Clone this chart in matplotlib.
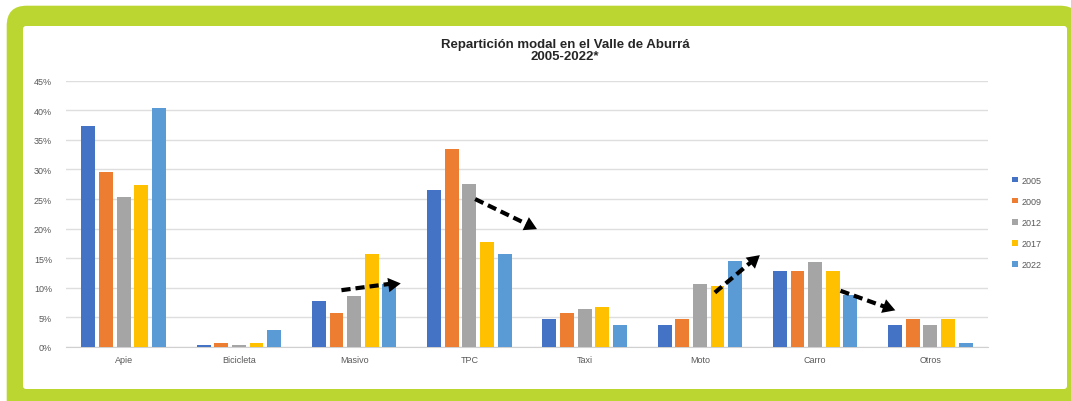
import matplotlib
matplotlib.use("Agg")
import matplotlib.pyplot as plt
from matplotlib.patches import FancyBboxPatch
from matplotlib.transforms import IdentityTransform
from matplotlib.ticker import FuncFormatter
import numpy as np

plt.rcParams['font.family'] = ['Liberation Sans', 'DejaVu Sans']

# ---- data ----
categories = ["Apie", "Bicicleta", "Masivo", "TPC", "Taxi", "Moto", "Carro", "Otros"]
years = ["2005", "2009", "2012", "2017", "2022"]
v2005 = [37.4, 0.4, 7.7, 26.5, 4.8, 3.7, 12.8, 3.7]
v2009 = [29.5, 0.7, 5.7, 33.4, 5.7, 4.8, 12.8, 4.8]
v2012 = [25.4, 0.4, 8.7, 27.5, 6.4, 10.7, 14.4, 3.7]
v2017 = [27.4, 0.6, 15.7, 17.7, 6.7, 10.3, 12.8, 4.8]
v2022 = [40.4, 2.8, 10.6, 15.7, 3.7, 14.5, 8.8, 0.6]
series = [v2005, v2009, v2012, v2017, v2022]
colors = ["#4472C4", "#ED7D31", "#A5A5A5", "#FFC000", "#5B9BD5"]
title = "Repartición modal en el Valle de Aburrá\n2005-2022*"
yticks = [0, 5, 10, 15, 20, 25, 30, 35, 40, 45]
# trend arrows (category position, percent)
arrows = [((1.89, 9.6), (2.40, 10.9)),
          ((3.05, 25.0), (3.58, 20.0)),
          ((5.13, 9.2), (5.52, 15.6)),
          ((6.22, 9.5), (6.69, 6.2))]

W, H = 1071, 402
fig = plt.figure(figsize=(W / 100, H / 100), dpi=100)
fig.patch.set_facecolor("white")

green = "#BBD531"
outer = FancyBboxPatch((6.7, -30), 1080 - 6.7, 395.3 + 30,
                       boxstyle="round,pad=0,rounding_size=20",
                       transform=IdentityTransform(), facecolor=green,
                       edgecolor="none", zorder=0)
inner = FancyBboxPatch((23, 12), 1067 - 23, 375 - 12,
                       boxstyle="round,pad=0,rounding_size=3",
                       transform=IdentityTransform(), facecolor="white",
                       edgecolor="none", zorder=1)
fig.patches.extend([outer, inner])

ax = fig.add_axes([66 / W, 54 / H, (988 - 66) / W, (348 - 81.7) / H])
ax.set_facecolor("none")
ax.set_zorder(2)

x = np.arange(len(categories))
step = 0.153
width = 0.12
for j, (vals, col, yr) in enumerate(zip(series, colors, years)):
    ax.bar(x + (j - 2) * step, vals, width=width, color=col, label=yr, zorder=3)

ax.set_xlim(-0.5, len(categories) - 0.5)
ax.set_ylim(0, 45)
ax.set_yticks(yticks)
ax.yaxis.set_major_formatter(FuncFormatter(lambda v, p: f"{v:.0f}%"))
ax.set_xticks(x)
ax.set_xticklabels(categories)
ax.tick_params(axis="both", length=0, labelsize=6.5, colors="#595959")
ax.tick_params(axis="y", pad=10)
ax.tick_params(axis="x", pad=6)
ax.grid(axis="y", color="#dedede", lw=1.0, zorder=0)
for s in ["top", "right", "left"]:
    ax.spines[s].set_visible(False)
ax.spines["bottom"].set_color("#d0d0d0")

ms = 12
for (p0, p1) in arrows:
    d0 = ax.transData.transform(p0)
    d1 = ax.transData.transform(p1)
    ang = np.degrees(np.arctan2(d1[1] - d0[1], d1[0] - d0[0]))
    L = np.hypot(*(d1 - d0))
    t = max(0.0, 1 - (ms / 2 * 100 / 72) / L)
    pm = (p0[0] + t * (p1[0] - p0[0]), p0[1] + t * (p1[1] - p0[1]))
    ax.plot([p0[0], pm[0]], [p0[1], pm[1]], color="black", lw=3.0,
            linestyle=(0, (2.2, 1.2)), dash_capstyle="butt", zorder=5)
    ax.plot([pm[0]], [pm[1]], marker=(3, 0, ang - 90), markersize=ms,
            color="black", markeredgewidth=0, linestyle="none", zorder=6)

fig.text(565 / W, 1 - 51 / H, title, ha="center", va="center",
         fontsize=9.5, fontweight="bold", color="#262626", linespacing=1.1)

handles, labels = ax.get_legend_handles_labels()
fig.legend(handles, labels, loc="center left", bbox_to_anchor=(1004 / W, 1 - 223.5 / H),
           frameon=False, fontsize=6.5, handlelength=0.6, handleheight=0.6,
           handletextpad=0.4, labelspacing=1.35, labelcolor="#595959")

fig.savefig("out.png", dpi=100, facecolor="white")
